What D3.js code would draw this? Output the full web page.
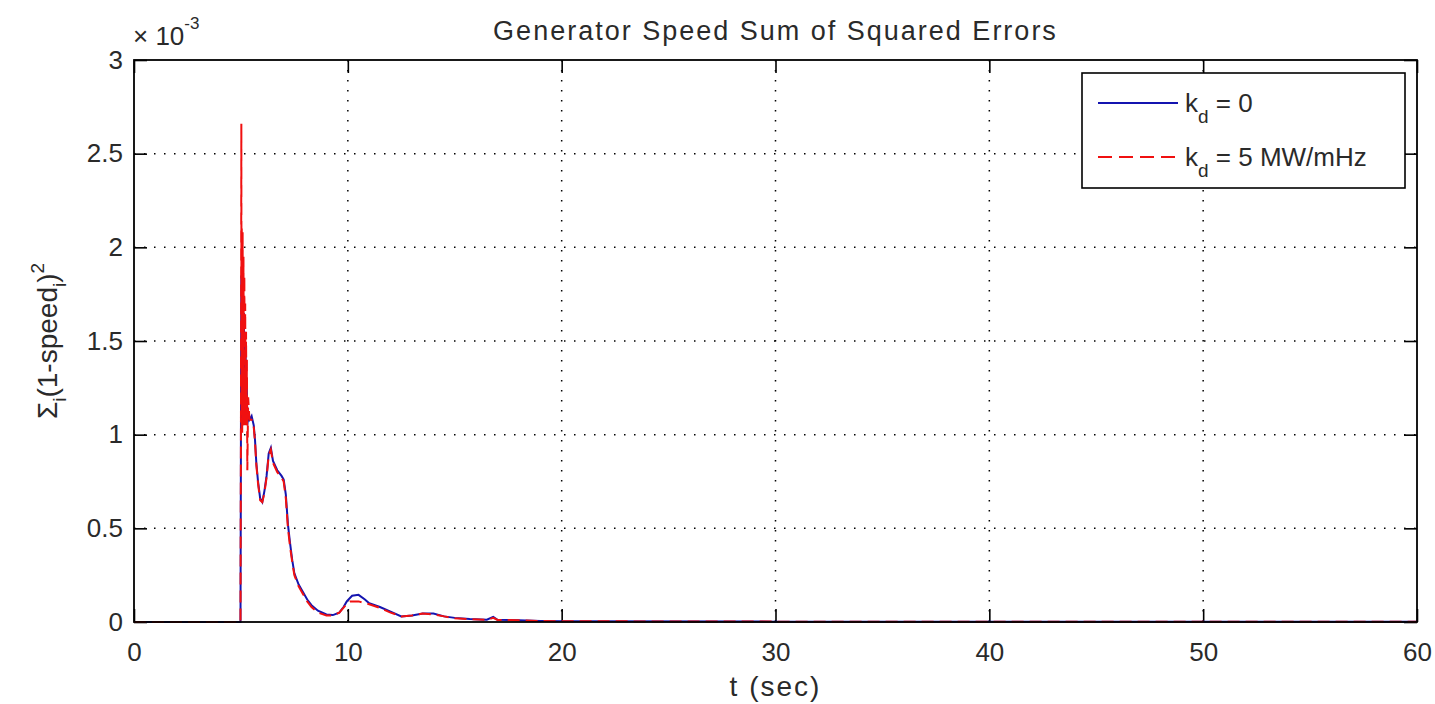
<!DOCTYPE html>
<html>
<head>
<meta charset="utf-8">
<script src="https://cdn.jsdelivr.net/npm/d3@7"></script>
<style>
  body { margin: 0; background: #fff; }
  svg text { font-family: "Liberation Sans", Arial, sans-serif; fill: #2a2a2a; }
</style>
</head>
<body>
<div id="chart"></div>
<script>
// values, y in units of 1e-3
var tBlue = [0, 4.98, 5.0, 5.02, 5.04, 5.06, 5.08, 5.1, 5.12, 5.14, 5.16, 5.18, 5.2, 5.22, 5.24, 5.27, 5.3, 5.34, 5.4, 5.5, 5.6, 5.66, 5.72, 5.8, 5.9, 6.0, 6.1, 6.2, 6.3, 6.4, 6.5, 6.7, 6.9, 7.0, 7.1, 7.2, 7.3, 7.4, 7.5, 7.7, 7.9, 8.1, 8.3, 8.6, 9.0, 9.3, 9.6, 9.8, 9.95, 10.2, 10.5, 10.8, 11.0, 11.5, 12.0, 12.5, 13.0, 13.5, 14.0, 14.5, 15.0, 15.7, 16.5, 16.8, 17.0, 18.0, 19.0, 20.0, 30.0, 60.0];
var vBlue = [0, 0, 0.94, 1.85, 1.1, 1.82, 1.05, 1.75, 1.1, 1.65, 1.12, 1.55, 1.1, 1.45, 1.08, 1.3, 1.05, 1.12, 1.08, 1.1, 1.05, 0.97, 0.85, 0.75, 0.66, 0.64, 0.7, 0.78, 0.9, 0.93, 0.86, 0.81, 0.78, 0.76, 0.68, 0.52, 0.42, 0.33, 0.26, 0.2, 0.16, 0.12, 0.09, 0.06, 0.04, 0.037, 0.05, 0.08, 0.11, 0.14, 0.145, 0.12, 0.1, 0.08, 0.055, 0.03, 0.035, 0.045, 0.045, 0.03, 0.022, 0.016, 0.012, 0.027, 0.012, 0.01, 0.006, 0.004, 0.002, 0.001];

var tRed = [0, 4.98, 5.0, 5.02, 5.03, 5.04, 5.06, 5.08, 5.1, 5.12, 5.14, 5.16, 5.18, 5.2, 5.22, 5.24, 5.26, 5.28, 5.3, 5.34, 5.4, 5.5, 5.6, 5.66, 5.72, 5.8, 5.9, 6.0, 6.1, 6.2, 6.3, 6.4, 6.5, 6.7, 6.9, 7.0, 7.1, 7.2, 7.3, 7.4, 7.5, 7.7, 7.9, 8.1, 8.3, 8.6, 9.0, 9.3, 9.6, 9.9, 10.1, 10.5, 11.0, 11.5, 12.0, 12.5, 13.0, 13.5, 14.0, 14.5, 15.0, 15.7, 16.5, 16.8, 17.0, 18.0, 19.0, 20.0, 30.0, 60.0];
var vRed = [0, 0, 0.94, 2.66, 1.0, 2.1, 1.0, 2.08, 1.05, 1.95, 1.05, 1.85, 1.08, 1.7, 1.05, 1.55, 1.1, 1.4, 0.81, 1.2, 1.08, 1.08, 1.04, 0.96, 0.84, 0.74, 0.65, 0.64, 0.69, 0.77, 0.89, 0.92, 0.85, 0.8, 0.77, 0.75, 0.66, 0.5, 0.4, 0.32, 0.25, 0.19, 0.15, 0.11, 0.08, 0.05, 0.035, 0.035, 0.05, 0.09, 0.11, 0.11, 0.095, 0.075, 0.05, 0.03, 0.035, 0.045, 0.04, 0.03, 0.02, 0.015, 0.011, 0.022, 0.011, 0.009, 0.005, 0.004, 0.002, 0.001];

var xTicks = [0, 10, 20, 30, 40, 50, 60];
var yTicks = [0, 0.5, 1, 1.5, 2, 2.5, 3];

var fullWidth = 1435, fullHeight = 704;
var margin = {top: 60, right: 18, bottom: 82, left: 134};
var width = fullWidth - margin.left - margin.right;
var height = fullHeight - margin.top - margin.bottom;

var svg = d3.select("#chart").append("svg")
    .attr("width", fullWidth)
    .attr("height", fullHeight);

var g = svg.append("g")
    .attr("transform", "translate(" + margin.left + "," + margin.top + ")");

var x = d3.scaleLinear().domain([0, 60]).range([0, width]);
var y = d3.scaleLinear().domain([0, 3]).range([height, 0]);

// dotted grid
g.append("g").selectAll("line.vg")
    .data(xTicks.slice(1, -1)).enter().append("line")
    .attr("x1", function(d) { return x(d); }).attr("x2", function(d) { return x(d); })
    .attr("y1", 0).attr("y2", height)
    .attr("stroke", "#000").attr("stroke-width", 1.5)
    .attr("stroke-dasharray", "1.5,8.5");
g.append("g").selectAll("line.hg")
    .data(yTicks.slice(1, -1)).enter().append("line")
    .attr("y1", function(d) { return y(d); }).attr("y2", function(d) { return y(d); })
    .attr("x1", 0).attr("x2", width)
    .attr("stroke", "#000").attr("stroke-width", 1.5)
    .attr("stroke-dasharray", "1.5,8.5");

// axes, ticks inside
var xAxis = d3.axisBottom(x).tickValues(xTicks).tickSizeInner(-13).tickSizeOuter(0).tickPadding(31);
var yAxis = d3.axisLeft(y).tickValues(yTicks).tickSizeInner(-13).tickSizeOuter(0).tickPadding(23)
    .tickFormat(function(d) { return d; });

var gx = g.append("g").attr("transform", "translate(0," + height + ")").call(xAxis);
var gy = g.append("g").call(yAxis);
g.append("g").call(d3.axisTop(x).tickValues(xTicks).tickSizeInner(-13).tickSizeOuter(0).tickFormat(""));
g.append("g").attr("transform", "translate(" + width + ",0)")
    .call(d3.axisRight(y).tickValues(yTicks).tickSizeInner(-13).tickSizeOuter(0).tickFormat(""));

g.selectAll(".domain").remove();
g.selectAll(".tick line").attr("stroke", "#000").attr("stroke-width", 1.6);
gx.selectAll("text").style("font-size", "26px").attr("dy", "0.3em").attr("fill", "#333");
gy.selectAll("text").style("font-size", "26px").attr("dx", "12px").attr("fill", "#333");

// data lines
var blue = tBlue.map(function(t, i) { return [t, vBlue[i]]; });
var red = tRed.map(function(t, i) { return [t, vRed[i]]; });
var line = d3.line()
    .x(function(d) { return x(d[0]); })
    .y(function(d) { return y(d[1]); });

g.append("path").datum(blue)
    .attr("d", line).attr("fill", "none")
    .attr("stroke", "#1414b0").attr("stroke-width", 2);
g.append("path").datum(red)
    .attr("d", line).attr("fill", "none")
    .attr("stroke", "#f01010").attr("stroke-width", 2)
    .attr("stroke-dasharray", "12,6");

// box
g.append("rect").attr("width", width).attr("height", height)
    .attr("fill", "none").attr("stroke", "#000").attr("stroke-width", 1.8);

// title and labels
svg.append("text")
    .attr("x", margin.left + width / 2).attr("y", 40)
    .attr("text-anchor", "middle").style("font-size", "27px").style("letter-spacing", "2px")
    .text("Generator Speed Sum of Squared Errors");

svg.append("text")
    .attr("x", margin.left + width / 2).attr("y", 696)
    .attr("text-anchor", "middle").style("font-size", "28px").style("letter-spacing", "2px")
    .text("t (sec)");

var exp = svg.append("text").attr("x", 133).attr("y", 45).style("font-size", "26px");
exp.append("tspan").text("\u00d7 10");
exp.append("tspan").attr("dy", -16).style("font-size", "17px").text("-3");

var yl = svg.append("text")
    .attr("transform", "translate(57," + (margin.top + height / 2) + ") rotate(-90)")
    .attr("text-anchor", "middle").style("font-size", "28px");
yl.append("tspan").text("\u03a3");
yl.append("tspan").attr("dy", 9).style("font-size", "19px").text("i");
yl.append("tspan").attr("dy", -9).text("(1-speed");
yl.append("tspan").attr("dy", 9).style("font-size", "19px").text("i");
yl.append("tspan").attr("dy", -9).text(")");
yl.append("tspan").attr("dy", -13).style("font-size", "19px").text("2");

// legend
var lg = svg.append("g").attr("transform", "translate(1082,73)");
lg.append("rect").attr("width", 323).attr("height", 115)
    .attr("fill", "#fff").attr("stroke", "#000").attr("stroke-width", 1.6);
var entries = [
    {label: " = 0", color: "#1414b0", dash: null, yy: 30},
    {label: " = 5 MW/mHz", color: "#f01010", dash: "14,7", yy: 84}
];
entries.forEach(function(e) {
    lg.append("line").attr("x1", 16).attr("x2", 96).attr("y1", e.yy).attr("y2", e.yy)
        .attr("stroke", e.color).attr("stroke-width", 1.8)
        .attr("stroke-dasharray", e.dash);
    var t = lg.append("text").attr("x", 103).attr("y", e.yy + 9).style("font-size", "26px");
    t.append("tspan").text("k");
    t.append("tspan").attr("dy", 11).style("font-size", "19px").text("d");
    t.append("tspan").attr("dy", -11).text(e.label);
});
</script>
</body>
</html>
